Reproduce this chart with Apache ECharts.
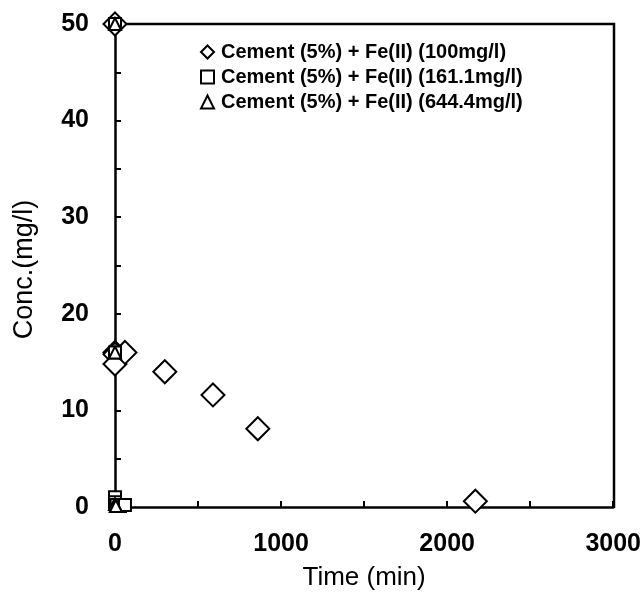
<!DOCTYPE html>
<html>
<head>
<meta charset="utf-8">
<script src="https://cdn.jsdelivr.net/npm/echarts@6/dist/echarts.min.js"></script>
<style>
	html, body { margin: 0; padding: 0; background: #fff; }
	#chart { width: 644px; height: 596px; }
</style>
</head>
<body>
<div id="chart"></div>
<script>
	// 数据
	var names = ['Cement (5%) + Fe(II) (100mg/l)', 'Cement (5%) + Fe(II) (161.1mg/l)', 'Cement (5%) + Fe(II) (644.4mg/l)'];
	var fe100 = [[0, 50], [0, 16], [0, 15.8], [0, 14.8], [60, 16], [300, 14], [590, 11.6], [860, 8.1], [2170, 0.6]];
	var fe161 = [[0, 50], [0, 16], [0, 1], [0, 0.5], [10, 0.2], [30, 0.1], [60, 0.2]];
	var fe644 = [[0, 50], [0, 16], [0, 0.3], [5, 0.1]];
	var xTicks = [0, 1000, 2000, 3000];
	var yTicks = [0, 10, 20, 30, 40, 50];

	var font = 'Liberation Sans, Arial, sans-serif';
	var myChart = echarts.init(document.getElementById('chart'));

	function mk(name, data, symbol, size) {
		return {
			name: name,
			type: 'scatter',
			symbol: symbol,
			symbolSize: size,
			data: data,
			itemStyle: { color: '#fff', borderColor: '#000', borderWidth: 2, opacity: 1 }
		};
	}

	var option = {
		animation: false,
		backgroundColor: '#fff',
		grid: { left: 115, right: 30, top: 24, bottom: 88 },
		legend: {
			orient: 'vertical',
			left: 195,
			top: 37,
			itemGap: 5,
			itemWidth: 13,
			itemHeight: 13,
			textStyle: { fontFamily: font, fontSize: 20, fontWeight: 'bold', color: '#000', padding: [0, 0, 0, 2] },
			data: names
		},
		xAxis: {
			type: 'value',
			min: xTicks[0],
			max: xTicks[xTicks.length - 1],
			interval: 1000,
			name: 'Time (min)',
			nameLocation: 'middle',
			nameGap: 58,
			nameTextStyle: { fontFamily: font, fontSize: 26, color: '#000' },
			axisLine: { lineStyle: { color: '#000', width: 2.5 } },
			axisTick: { inside: true, length: 6, lineStyle: { color: '#000', width: 2 } },
			minorTick: { show: true, splitNumber: 2, length: 6, lineStyle: { color: '#000', width: 2 } },
			axisLabel: {
				fontFamily: font, fontSize: 25, fontWeight: 'bold', color: '#000', margin: 25,
				formatter: function(v) { return String(v); }
			},
			splitLine: { show: false }
		},
		yAxis: {
			type: 'value',
			min: yTicks[0],
			max: yTicks[yTicks.length - 1],
			interval: 10,
			name: 'Conc.(mg/l)',
			nameLocation: 'middle',
			nameGap: 77,
			nameTextStyle: { fontFamily: font, fontSize: 27, color: '#000', padding: [0, 0, 0, -8] },
			axisLine: { lineStyle: { color: '#000', width: 2.5 } },
			axisTick: { inside: true, length: 6, lineStyle: { color: '#000', width: 2 } },
			minorTick: { show: true, splitNumber: 2, length: 6, lineStyle: { color: '#000', width: 2 } },
			axisLabel: { fontFamily: font, fontSize: 25, fontWeight: 'bold', color: '#000', margin: 26 },
			splitLine: { show: false }
		},
		series: [
			mk(names[0], fe100, 'diamond', 23),
			mk(names[1], fe161, 'rect', 12),
			mk(names[2], fe644, 'triangle', 12)
		],
		graphic: [{
			// 右、上边框
			type: 'polyline',
			shape: { points: [[115, 24], [614, 24], [614, 508]] },
			style: { stroke: '#000', lineWidth: 2.5, fill: null },
			z: 0
		}]
	};
	myChart.setOption(option);
</script>
</body>
</html>
